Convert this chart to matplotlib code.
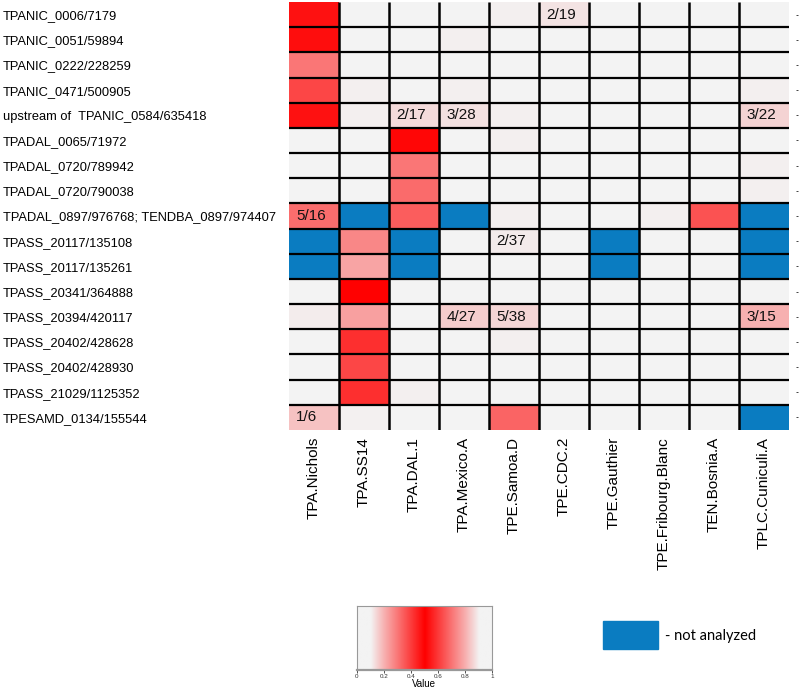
import numpy as np
import matplotlib

matplotlib.use("Agg")
import matplotlib.pyplot as plt
from matplotlib.colors import LinearSegmentedColormap
from matplotlib.patches import Rectangle
from matplotlib.transforms import blended_transform_factory

plt.rcParams["font.family"] = ["Liberation Sans", "DejaVu Sans"]

rows = [
    "TPANIC_0006/7179",
    "TPANIC_0051/59894",
    "TPANIC_0222/228259",
    "TPANIC_0471/500905",
    "upstream of  TPANIC_0584/635418",
    "TPADAL_0065/71972",
    "TPADAL_0720/789942",
    "TPADAL_0720/790038",
    "TPADAL_0897/976768; TENDBA_0897/974407",
    "TPASS_20117/135108",
    "TPASS_20117/135261",
    "TPASS_20341/364888",
    "TPASS_20394/420117",
    "TPASS_20402/428628",
    "TPASS_20402/428930",
    "TPASS_21029/1125352",
    "TPESAMD_0134/155544",
]
strains = [
    "TPA.Nichols", "TPA.SS14", "TPA.DAL.1", "TPA.Mexico.A", "TPE.Samoa.D",
    "TPE.CDC.2", "TPE.Gauthier", "TPE.Fribourg.Blanc", "TEN.Bosnia.A", "TPLC.Cuniculi.A",
]

NA = np.nan
# fraction of reads per cell (nan = not analyzed)
values = np.array([
    [0.47, 0.00, 0.00, 0.00, 0.03, 2 / 19, 0.00, 0.00, 0.00, 0.00],
    [0.48, 0.00, 0.00, 0.03, 0.00, 0.00, 0.00, 0.00, 0.00, 0.00],
    [0.30, 0.00, 0.00, 0.00, 0.00, 0.00, 0.00, 0.00, 0.00, 0.00],
    [0.38, 0.03, 0.00, 0.03, 0.00, 0.00, 0.00, 0.00, 0.00, 0.03],
    [0.47, 0.03, 2 / 17, 3 / 28, 0.03, 0.00, 0.00, 0.00, 0.00, 3 / 22],
    [0.00, 0.00, 0.49, 0.00, 0.03, 0.00, 0.00, 0.00, 0.00, 0.00],
    [0.00, 0.00, 0.30, 0.00, 0.00, 0.00, 0.00, 0.00, 0.00, 0.03],
    [0.00, 0.00, 0.32, 0.00, 0.00, 0.00, 0.00, 0.00, 0.00, 0.03],
    [5 / 16, NA, 0.34, NA, 0.03, 0.00, 0.00, 0.03, 0.36, NA],
    [NA, 0.27, NA, 0.00, 2 / 37, 0.00, NA, 0.00, 0.00, NA],
    [NA, 0.22, NA, 0.00, 0.00, 0.00, NA, 0.00, 0.00, NA],
    [0.00, 0.50, 0.00, 0.00, 0.00, 0.00, 0.00, 0.00, 0.00, 0.00],
    [0.05, 0.23, 0.00, 4 / 27, 5 / 38, 0.00, 0.00, 0.00, 0.00, 3 / 15],
    [0.00, 0.42, 0.00, 0.00, 0.03, 0.00, 0.00, 0.00, 0.00, 0.00],
    [0.00, 0.38, 0.00, 0.00, 0.00, 0.00, 0.00, 0.00, 0.00, 0.00],
    [0.00, 0.42, 0.03, 0.00, 0.00, 0.00, 0.00, 0.00, 0.00, 0.00],
    [1 / 6, 0.02, 0.00, 0.00, 0.33, 0.00, 0.00, 0.00, 0.00, NA],
])

# (row, col, label)
annotations = [
    (0, 5, "2/19"), (4, 2, "2/17"), (4, 3, "3/28"), (4, 9, "3/22"),
    (8, 0, "5/16"), (9, 4, "2/37"), (12, 3, "4/27"), (12, 4, "5/38"),
    (12, 9, "3/15"), (16, 0, "1/6"),
]

GREY = "#f3f3f3"
BLUE = "#0a7cc1"
cmap = LinearSegmentedColormap.from_list(
    "greyred",
    [(0.0, GREY), (0.1, "#f3e4e4"), (0.2, "#f7b0b0"), (0.35, "#fb5858"), (0.5, "#ff0000"),
     (0.65, "#fb5858"), (0.8, "#f7b0b0"), (0.9, "#f3e4e4"), (1.0, GREY)],
)
cmap.set_bad(BLUE)

fig = plt.figure(figsize=(8.0, 6.89), dpi=100)
ax = fig.add_axes([0.361, 0.376, 0.625, 0.621])
ax.pcolormesh(np.ma.masked_invalid(values), cmap=cmap, vmin=0, vmax=1)
ax.set_xlim(0, len(strains))
ax.set_ylim(len(rows), 0)

nr, nc = values.shape
ax.hlines(np.arange(1, nr), 0, nc, colors="black", lw=1.6)
ax.vlines(np.arange(1, nc), 0, nr, colors="black", lw=1.8)
for s in ax.spines.values():
    s.set_visible(False)

for r, c, lab in annotations:
    ax.text(c + 0.15, r + 0.5, lab, ha="left", va="center", fontsize=11, color="#111111")

ax.set_yticks(np.arange(nr) + 0.5)
ax.set_yticklabels(rows, fontsize=9.3, ha="left")
ax.tick_params(axis="y", length=0, pad=206)
ax.set_xticks(np.arange(nc) + 0.5)
ax.set_xticklabels(strains, rotation=90, fontsize=11, va="top")
ax.tick_params(axis="x", length=0, pad=5)

# little marks to the right of each row
tr = blended_transform_factory(ax.transAxes, ax.transData)
ax.plot(np.full(nr, 1.016), np.arange(nr) + 0.5, ls="none", marker="_",
        ms=2, mew=0.7, color="#444444", transform=tr, clip_on=False)

# colour key
key_cmap = LinearSegmentedColormap.from_list(
    "key",
    [(0.0, GREY), (0.1, GREY), (0.2, "#f7b0b0"), (0.35, "#fb5858"), (0.5, "#ff0000"),
     (0.65, "#fb5858"), (0.8, "#f7b0b0"), (0.9, GREY), (1.0, GREY)],
)
cax = fig.add_axes([0.446, 0.0276, 0.169, 0.093])
grad = np.linspace(0, 1, 256)[None, :]
cax.imshow(grad, cmap=key_cmap, aspect="auto", extent=[0, 1, 0, 1])
cax.set_yticks([])
cax.set_xticks([0, 0.2, 0.4, 0.6, 0.8, 1])
cax.set_xticklabels(["0", "0.2", "0.4", "0.6", "0.8", "1"], fontsize=4.5)
cax.tick_params(axis="x", length=2, width=0.6, pad=1, colors="#333333")
cax.set_xlabel("Value", fontsize=7, labelpad=0)
for s in cax.spines.values():
    s.set_color("#999999")
    s.set_linewidth(0.8)
cax.spines["bottom"].set_linewidth(1.6)

# not analyzed legend
fig.patches.append(Rectangle((603 / 800, 1 - 649 / 689), 55 / 800, 28 / 689,
                             transform=fig.transFigure, color=BLUE, zorder=3))
fig.text(665 / 800, 1 - 636 / 689, "- not analyzed", fontsize=10.5,
         family=["Lato", "DejaVu Sans"], va="center", ha="left")

fig.savefig("out.png", dpi=100)
